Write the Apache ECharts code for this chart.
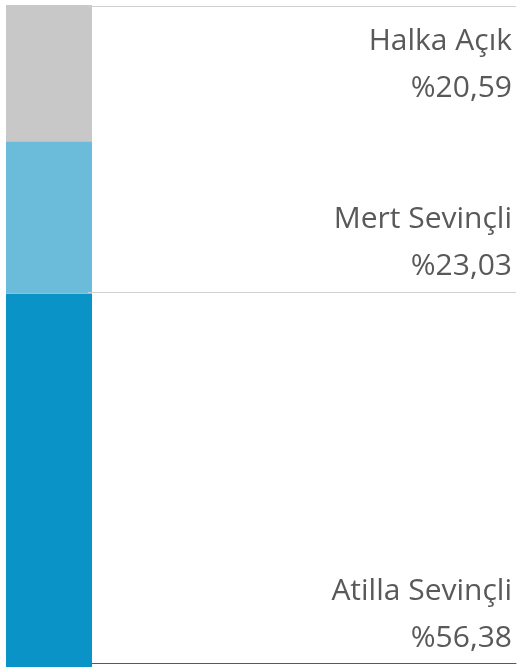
<!DOCTYPE html>
<html>
<head>
<meta charset="utf-8">
<script src="https://cdn.jsdelivr.net/npm/echarts@6/dist/echarts.min.js"></script>
<style>
html,body{margin:0;padding:0;background:#fff;}
#chart{width:517px;height:668px;}
</style>
</head>
<body>
<div id="chart"></div>
<script>
// Data
const categories = ['Ortaklık Yapısı'];
const seriesNames = ['Atilla Sevinçli', 'Mert Sevinçli', 'Halka Açık'];
const seriesValues = [56.38, 23.03, 20.59];
const seriesColors = ['#0A93C6', '#6BBCDB', '#C8C8C8'];
const labelOffsets = [-5, -4, -29];

function fmt(v) { return '%' + v.toFixed(2).replace('.', ','); }

const chart = echarts.init(document.getElementById('chart'), null, { renderer: 'canvas' });

const barSeries = seriesNames.map((name, i) => ({
  name: name,
  type: 'bar',
  stack: 'total',
  xAxisIndex: 0,
  yAxisIndex: 0,
  barWidth: '100%',
  data: [seriesValues[i]],
  itemStyle: { color: seriesColors[i] },
  emphasis: { disabled: true },
  label: {
    show: true,
    position: [506, '100%'],
    align: 'right',
    verticalAlign: 'bottom',
    offset: [0, labelOffsets[i]],
    formatter: p => p.seriesName + '\n' + fmt(p.value),
    fontFamily: '"Open Sans", sans-serif',
    fontSize: 30,
    lineHeight: 47,
    color: '#595959'
  }
}));

chart.setOption({
  animation: false,
  backgroundColor: '#ffffff',
  grid: [
    { left: 6, width: 86, top: 5, bottom: 1, containLabel: false },
    { left: 88, right: 1, top: 6, bottom: 5, containLabel: false }
  ],
  xAxis: [
    { type: 'category', gridIndex: 0, data: categories, show: false },
    { type: 'category', gridIndex: 1, data: categories,
      axisLine: { show: true, lineStyle: { color: '#595959', width: 1 } },
      axisTick: { show: false }, axisLabel: { show: false }, splitLine: { show: false } }
  ],
  yAxis: [
    { type: 'value', gridIndex: 0, min: 0, max: 100, show: false },
    { type: 'value', gridIndex: 1, min: 0, max: 100, show: false }
  ],
  series: barSeries.concat([{
    type: 'line',
    xAxisIndex: 1,
    yAxisIndex: 1,
    data: [],
    silent: true,
    markLine: {
      silent: true,
      symbol: ['none', 'none'],
      label: { show: false },
      lineStyle: { color: '#D0D0D0', width: 1, type: 'solid' },
      emphasis: { disabled: true },
      data: [{ yAxis: 100 }, { yAxis: seriesValues[0] }]
    }
  }])
});
</script>
</body>
</html>
